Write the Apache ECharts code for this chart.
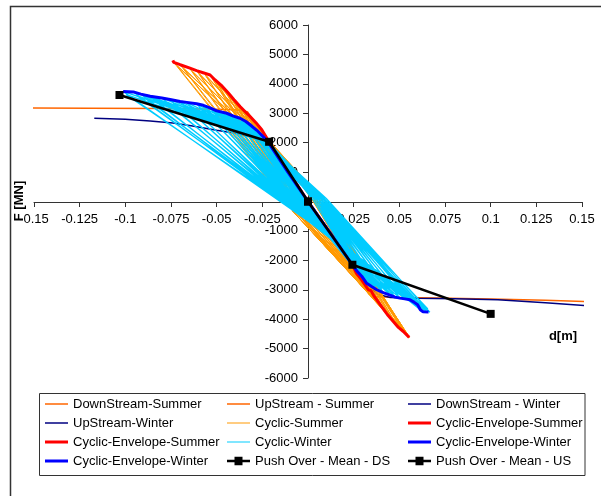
<!DOCTYPE html>
<html><head><meta charset="utf-8">
<script src="https://cdn.jsdelivr.net/npm/echarts@6/dist/echarts.min.js"></script>
<style>html,body{margin:0;padding:0;background:#fff}#c{width:601px;height:496px}</style>
</head><body><div id="c"></div>
<script>
// ---- axis ticks ----
const xMin = -0.15, xMax = 0.15, xStep = 0.025;
const yMin = -6000, yMax = 6000, yStep = 1000;

// ---- monotonic push-over curves (d [m], F [MN]) ----
const downStreamSummer = [[-0.153,3175],[-0.12,3170],[-0.08,3160],[-0.05,3140],[-0.040,3120],[-0.035,3080],[-0.033,3040],[-0.016,1480],[0,0]];
const upStreamSummer = [[0,0],[0.017,-1600],[0.0335,-3150],[0.037,-3230],[0.045,-3255],[0.07,-3280],[0.1,-3318],[0.13,-3360],[0.153,-3400]];
const downStreamWinter = [[0,0],[0.012,-1100],[0.024,-2150],[0.032,-2800],[0.038,-3150],[0.045,-3260],[0.06,-3290],[0.08,-3310],[0.104,-3340],[0.13,-3440],[0.153,-3546]];
const upStreamWinter = [[-0.117,2830],[-0.100,2800],[-0.0864,2740],[-0.074,2665],[-0.064,2574],[-0.050,2420],[-0.038,2300],[-0.028,2150],[-0.022,1980],[-0.011,1000],[0,0]];

// ---- envelopes ----
const envSummerPos = [[-0.074,4800],[-0.0735,4730],[-0.070,4650],[-0.065,4540],[-0.061,4450],[-0.057,4370],[-0.0536,4300],[-0.051,4140],[-0.047,3920],[-0.0436,3685],[-0.0405,3460],[-0.0372,3230],[-0.0345,3060],[-0.0317,2890],[-0.0285,2680],[-0.0253,2440],[-0.0226,2155],[-0.0213,2030],[-0.011,1050],[0,0]];
const envSummerNeg = [[0,0],[0.012,-1060],[0.0243,-2150],[0.0266,-2450],[0.0294,-2662],[0.0330,-3000],[0.0345,-3030],[0.0360,-3200],[0.0403,-3570],[0.0435,-3850],[0.0467,-4080],[0.0495,-4280],[0.0522,-4420],[0.0554,-4620]];
const envWinterPos = [[-0.1012,3740],[-0.0956,3725],[-0.0915,3650],[-0.0864,3580],[-0.080,3520],[-0.0755,3470],[-0.070,3400],[-0.0664,3370],[-0.061,3320],[-0.0573,3270],[-0.0536,3180],[-0.050,3080],[-0.0445,3000],[-0.0408,2900],[-0.0372,2830],[-0.0340,2720],[-0.0317,2610],[-0.0280,2420],[-0.0245,2200],[-0.0217,2010],[-0.011,1000],[0,0]];
const envWinterNeg = [[0,0],[0.0121,-1070],[0.0243,-2150],[0.0270,-2380],[0.0294,-2540],[0.0321,-2780],[0.0350,-2900],[0.0376,-3000],[0.0412,-3100],[0.0449,-3180],[0.0476,-3250],[0.0503,-3285],[0.0530,-3310],[0.0558,-3340],[0.0580,-3420],[0.0600,-3510],[0.0615,-3680],[0.0630,-3750],[0.0660,-3760]];

// ---- mean push-over ----
const pushDS = [[0,0],[-0.0213,2030],[-0.1032,3620]];
const pushUS = [[0,0],[0.0243,-2150],[0.1,-3820]];

// ---- cyclic summer loops (two cycles per amplitude): peak +, zero, peak -, zero ----
const sumPeakPos = [[-0.0226,2155],[-0.0253,2440],[-0.0285,2680],[-0.0317,2890],[-0.0345,3060],[-0.0372,3230],[-0.0405,3460],[-0.0436,3685],[-0.047,3920],[-0.051,4140],[-0.0536,4300],[-0.057,4370],[-0.061,4450],[-0.065,4540],[-0.070,4650],[-0.0735,4730]];
const sumZeroA = [[-0.003,-150],[-0.004,-200],[-0.004,-220],[-0.005,-250],[-0.005,-260],[-0.006,-280],[-0.006,-300],[-0.006,-300],[-0.007,-320],[-0.007,-330],[-0.007,-340],[-0.008,-350],[-0.008,-350],[-0.008,-350],[-0.008,-350],[-0.008,-350]];
const sumPeakNeg = [[0.0243,-2150],[0.0266,-2450],[0.0294,-2662],[0.0330,-3000],[0.0345,-3030],[0.0360,-3200],[0.0380,-3380],[0.0403,-3570],[0.0435,-3850],[0.0467,-4080],[0.0495,-4280],[0.0522,-4420],[0.0540,-4530],[0.0554,-4620],[0.0550,-4600],[0.0554,-4620]];
const sumZeroB = [[0.003,100],[0.003,120],[0.004,140],[0.004,150],[0.004,160],[0.005,170],[0.005,180],[0.005,180],[0.005,190],[0.006,200],[0.006,200],[0.006,200],[0.006,200],[0.006,200],[0.006,200],[0.006,200]];
const sumPeakPos2 = [[-0.0220,2080],[-0.0246,2360],[-0.0277,2590],[-0.0308,2800],[-0.0336,2960],[-0.0362,3130],[-0.0394,3350],[-0.0424,3570],[-0.0457,3800],[-0.0496,4010],[-0.0522,4170],[-0.0555,4240],[-0.0594,4320],[-0.0633,4410],[-0.0682,4520],[-0.0716,4600]];
const sumZeroA2 = [[-0.002,-120],[-0.003,-160],[-0.003,-180],[-0.004,-200],[-0.004,-210],[-0.005,-230],[-0.005,-250],[-0.005,-250],[-0.006,-270],[-0.006,-280],[-0.006,-290],[-0.007,-300],[-0.007,-300],[-0.007,-300],[-0.007,-300],[-0.007,-300]];
const sumPeakNeg2 = [[0.0236,-2070],[0.0259,-2360],[0.0286,-2570],[0.0321,-2900],[0.0336,-2940],[0.0350,-3100],[0.0370,-3280],[0.0392,-3460],[0.0423,-3730],[0.0454,-3960],[0.0482,-4150],[0.0508,-4290],[0.0526,-4400],[0.0540,-4490],[0.0545,-4520],[0.0550,-4560]];
const sumZeroB2 = [[0.002,80],[0.002,100],[0.003,110],[0.003,120],[0.003,130],[0.004,140],[0.004,150],[0.004,150],[0.004,160],[0.005,170],[0.005,170],[0.005,170],[0.005,170],[0.005,170],[0.005,170],[0.005,170]];

// ---- cyclic winter loops (two cycles per amplitude): reload knee, peak +, unload end, peak -, unload end ----
const winKnee = [[-0.012,1100],[-0.016,1500],[-0.018,1700],[-0.019,1800],[-0.020,1900],[-0.021,1950],[-0.021,1980],[-0.022,2000],[-0.022,2020],[-0.023,2050],[-0.023,2060],[-0.024,2080],[-0.024,2090],[-0.025,2100],[-0.025,2110],[-0.026,2120],[-0.026,2130],[-0.027,2140],[-0.027,2150],[-0.028,2160],[-0.028,2170]];
const winPeakPos = [[-0.0217,2000],[-0.0245,2200],[-0.0280,2420],[-0.0317,2610],[-0.0340,2720],[-0.0372,2830],[-0.0408,2900],[-0.0445,3000],[-0.0475,3040],[-0.050,3080],[-0.0536,3180],[-0.0573,3270],[-0.061,3320],[-0.0664,3370],[-0.070,3400],[-0.0755,3470],[-0.080,3520],[-0.0864,3580],[-0.0915,3650],[-0.0956,3725],[-0.1012,3740]];
const winZeroA = [[0.001,-300],[0.001,-330],[0.001,-360],[0.0008,-390],[0.0006,-420],[0.0004,-450],[0.0002,-470],[0,-490],[0,-510],[-0.0002,-530],[-0.0004,-540],[-0.0005,-550],[-0.0006,-560],[-0.0007,-570],[-0.0008,-580],[-0.0008,-590],[-0.0009,-600],[-0.0009,-605],[-0.001,-610],[-0.001,-615],[-0.001,-620]];
const winPeakNeg = [[0.0243,-2150],[0.0265,-2330],[0.0294,-2540],[0.0321,-2780],[0.0350,-2900],[0.0376,-3000],[0.0412,-3100],[0.0449,-3180],[0.0476,-3250],[0.0503,-3285],[0.0530,-3310],[0.0558,-3340],[0.0570,-3380],[0.0580,-3420],[0.0590,-3470],[0.0600,-3510],[0.0608,-3600],[0.0615,-3680],[0.0630,-3750],[0.0650,-3760],[0.0667,-3760]];
const winZeroB = [[0.004,60],[0.005,70],[0.005,80],[0.006,80],[0.006,90],[0.007,90],[0.007,90],[0.007,100],[0.008,100],[0.008,100],[0.008,100],[0.008,100],[0.009,100],[0.009,100],[0.009,100],[0.009,100],[0.010,100],[0.010,100],[0.010,100],[0.010,100],[0.010,100]];
const winKnee2 = [[-0.010,950],[-0.014,1350],[-0.016,1550],[-0.017,1650],[-0.018,1750],[-0.019,1820],[-0.019,1850],[-0.020,1880],[-0.020,1900],[-0.021,1930],[-0.021,1950],[-0.022,1970],[-0.022,1980],[-0.023,2000],[-0.023,2010],[-0.024,2020],[-0.024,2030],[-0.025,2040],[-0.025,2050],[-0.026,2060],[-0.026,2070]];
const winPeakPos2 = [[-0.0210,1900],[-0.0238,2100],[-0.0272,2330],[-0.0308,2520],[-0.0331,2630],[-0.0362,2740],[-0.0398,2810],[-0.0434,2900],[-0.0464,2950],[-0.0489,2990],[-0.0524,3080],[-0.0560,3160],[-0.0597,3210],[-0.0650,3260],[-0.0686,3300],[-0.0740,3360],[-0.0785,3410],[-0.0848,3470],[-0.0898,3540],[-0.0940,3610],[-0.0995,3630]];
const winZeroA2 = [[0.002,-250],[0.002,-280],[0.0018,-310],[0.0016,-340],[0.0014,-370],[0.0012,-400],[0.001,-420],[0.0008,-440],[0.0006,-460],[0.0004,-480],[0.0002,-490],[0,-500],[0,-510],[-0.0002,-520],[-0.0003,-530],[-0.0004,-540],[-0.0005,-550],[-0.0005,-555],[-0.0006,-560],[-0.0006,-565],[-0.0007,-570]];
const winPeakNeg2 = [[0.0236,-2050],[0.0258,-2230],[0.0287,-2440],[0.0314,-2670],[0.0342,-2790],[0.0368,-2890],[0.0404,-2990],[0.0440,-3070],[0.0467,-3140],[0.0494,-3170],[0.0521,-3200],[0.0548,-3230],[0.0560,-3270],[0.0570,-3310],[0.0580,-3360],[0.0590,-3400],[0.0598,-3490],[0.0605,-3570],[0.0620,-3640],[0.0640,-3650],[0.0656,-3650]];
const winZeroB2 = [[0.003,40],[0.004,50],[0.004,60],[0.005,60],[0.005,70],[0.006,70],[0.006,70],[0.006,80],[0.007,80],[0.007,80],[0.007,80],[0.007,80],[0.008,80],[0.008,80],[0.008,80],[0.008,80],[0.009,80],[0.009,80],[0.009,80],[0.009,80],[0.009,80]];

// ---- legend columns ----
const legendCol1 = ['DownStream-Summer','UpStream-Winter','Cyclic-Envelope-Summer','Cyclic-Envelope-Winter'];
const legendCol2 = ['UpStream - Summer','Cyclic-Summer','Cyclic-Winter','Push Over - Mean - DS'];
const legendCol3 = ['DownStream - Winter','Cyclic-Envelope-Summer','Cyclic-Envelope-Winter','Push Over - Mean - US'];

// build cyclic paths
const sumCyclic = [[0,0]];
for (let i = 0; i < sumPeakPos.length; i++) {
  sumCyclic.push(sumPeakPos[i], sumZeroA[i], sumPeakNeg[i], sumZeroB[i]);
  sumCyclic.push(sumPeakPos2[i], sumZeroA2[i], sumPeakNeg2[i], sumZeroB2[i]);
}
const winCyclic = [[0,0]];
for (let i = 0; i < winPeakPos.length; i++) {
  winCyclic.push(winKnee[i], winPeakPos[i], winZeroA[i], winPeakNeg[i], winZeroB[i]);
  winCyclic.push(winKnee2[i], winPeakPos2[i], winZeroA2[i], winPeakNeg2[i], winZeroB2[i]);
}

const FONT = 'Liberation Sans, Arial, sans-serif';
function ln(name, data, color, width, extra) {
  return Object.assign({
    name, type: 'line', data, symbol: 'none', showSymbol: false,
    lineStyle: { color, width }, itemStyle: { color },
    silent: true, animation: false, emphasis: { disabled: true }
  }, extra || {});
}

const series = [
  ln('DownStream-Summer', downStreamSummer, '#FF6600', 1.5, { clip: false }),
  ln('UpStream - Summer', upStreamSummer, '#FF6600', 1.5, { clip: false }),
  ln('DownStream - Winter', downStreamWinter, '#000080', 1.5, { clip: false }),
  ln('UpStream-Winter', upStreamWinter, '#000080', 1.5, { clip: false }),
  ln('Cyclic-Summer', sumCyclic, '#FF9900', 1),
  ln('Cyclic-Envelope-Summer', envSummerPos, '#FF0000', 3),
  ln('Cyclic-Envelope-Summer', envSummerNeg, '#FF0000', 3),
  ln('Cyclic-Winter', winCyclic, '#00CCFF', 1.3),
  ln('Cyclic-Envelope-Winter', envWinterPos, '#0000FF', 3),
  ln('Cyclic-Envelope-Winter', envWinterNeg, '#0000FF', 3),
  ln('Push Over - Mean - DS', pushDS, '#000000', 2.5, { symbol: 'rect', symbolSize: 8, showSymbol: true }),
  ln('Push Over - Mean - US', pushUS, '#000000', 2.5, { symbol: 'rect', symbolSize: 8, showSymbol: true })
];

// legend icon shapes (line thickness per series kind)
const ICON_THIN = 'path://M0 0H23V1.5H0Z';
const ICON_HAIR = 'path://M0 0H23V1H0Z';
const ICON_THICK = 'path://M0 0H23V3H0Z';
const ICON_PUSH = 'path://M0 3H7.5V0H15.5V3H23V5.5H15.5V8.5H7.5V5.5H0Z';
function iconFor(name) {
  if (name.indexOf('Push') === 0) return ICON_PUSH;
  if (name.indexOf('Envelope') >= 0) return ICON_THICK;
  if (name.indexOf('Cyclic') === 0) return ICON_HAIR;
  return ICON_THIN;
}
function legend(left, names) {
  return {
    orient: 'vertical', left, top: 397.5, padding: 0, itemGap: 6,
    itemWidth: 23, itemHeight: 14, selectedMode: false, symbolKeepAspect: true,
    itemStyle: { borderWidth: 0 },
    data: names.map(n => ({ name: n, icon: iconFor(n) })),
    textStyle: { fontFamily: FONT, fontSize: 13, color: '#000' }
  };
}

const chart = echarts.init(document.getElementById('c'), null, { renderer: 'canvas' });
chart.setOption({
  animation: false,
  backgroundColor: '#fff',
  grid: { left: 34, right: 19, top: 25, bottom: 118, containLabel: false, outerBoundsMode: 'none' },
  xAxis: {
    type: 'value', min: xMin, max: xMax, interval: xStep, position: 'bottom', offset: -176,
    axisLine: { onZero: false, lineStyle: { color: '#333', width: 1 } },
    axisTick: { show: true, length: 5, lineStyle: { color: '#333' } },
    splitLine: { show: false },
    axisLabel: { margin: 11, fontFamily: FONT, fontSize: 13, color: '#000', showMinLabel: true, showMaxLabel: true,
      formatter: v => String(Math.round(v * 1000) / 1000) }
  },
  yAxis: {
    type: 'value', min: yMin, max: yMax, interval: yStep, position: 'left', offset: -274,
    axisLine: { onZero: false, lineStyle: { color: '#333', width: 1 } },
    axisTick: { show: true, length: 5, lineStyle: { color: '#333' } },
    splitLine: { show: false },
    axisLabel: { margin: 10, fontFamily: FONT, fontSize: 13, color: '#000', formatter: v => String(v) }
  },
  legend: [legend(45, legendCol1), legend(227, legendCol2), legend(408, legendCol3)],
  graphic: [
    { type: 'rect', shape: { x: 10.5, y: 6.5, width: 700, height: 600 }, style: { fill: 'none', stroke: '#333', lineWidth: 1.5 }, silent: true, z: -10 },
    { type: 'rect', shape: { x: 39.5, y: 393.5, width: 545.5, height: 82 }, style: { fill: 'none', stroke: '#333', lineWidth: 1 }, silent: true },
    { type: 'text', x: 19, y: 201, rotation: Math.PI / 2,
      style: { text: 'F [MN]', font: 'bold 13px ' + FONT, fill: '#000', align: 'center', verticalAlign: 'middle', textAlign: 'center', textVerticalAlign: 'middle' }, silent: true },
    { type: 'text', x: 563, y: 336,
      style: { text: 'd[m]', font: 'bold 13px ' + FONT, fill: '#000', align: 'center', verticalAlign: 'middle', textAlign: 'center', textVerticalAlign: 'middle' }, silent: true }
  ],
  series
});
</script></body></html>
